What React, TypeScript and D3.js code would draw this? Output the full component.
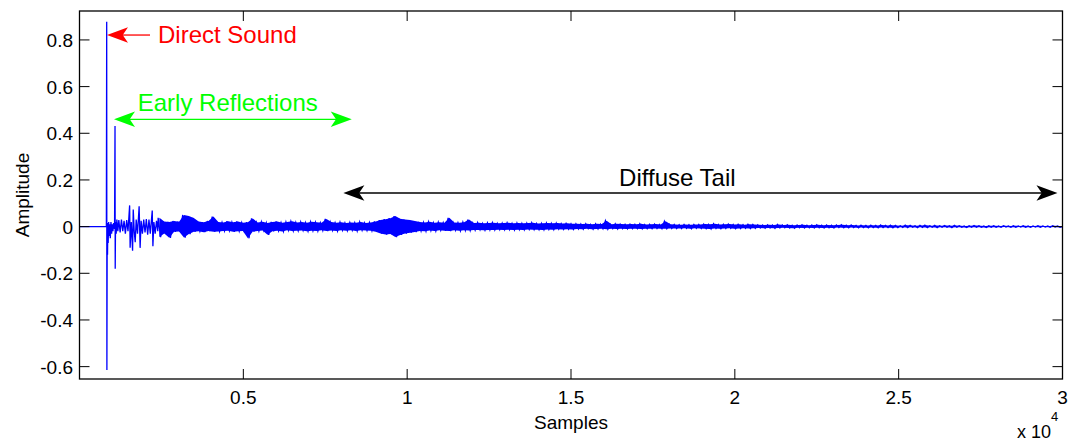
import React from "react";
import * as d3 from "d3";

// ---------- data ----------
const xTicks = [5000, 10000, 15000, 20000, 25000, 30000];
const xTickLabels = ["0.5", "1", "1.5", "2", "2.5", "3"];
const yTicks = [0.8, 0.6, 0.4, 0.2, 0, -0.2, -0.4, -0.6];
const yTickLabels = ["0.8", "0.6", "0.4", "0.2", "0", "-0.2", "-0.4", "-0.6"];

// early part of the impulse response: direct sound + early reflections
const earlySamples = [
  0, 820, 830, 836, 845, 855, 865, 875, 890, 905, 920, 940, 960, 980, 1000, 1020, 1040, 1070,
  1084, 1090, 1100, 1120, 1140, 1170, 1200, 1240, 1280, 1320, 1360, 1400, 1440, 1480, 1530,
  1545, 1580, 1620, 1640, 1670, 1700, 1730, 1770, 1820, 1850, 1880, 1920, 1960, 2000, 2040,
  2080, 2120, 2160, 2220, 2240, 2270, 2310, 2350, 2390,
];
const earlyValues = [
  0, 0, 0.878, -0.614, -0.02, -0.12, 0.015, -0.07, 0.02, -0.04, 0.01, -0.05, 0.02, -0.03, 0.01,
  -0.02, 0.015, -0.01, 0.431, -0.181, 0.02, -0.03, 0.03, -0.02, 0.028, -0.025, 0.03, -0.02,
  0.025, -0.03, 0.028, -0.02, 0.091, -0.09, 0.02, -0.103, 0.073, -0.02, -0.067, 0.03, -0.03,
  0.087, -0.091, 0.025, -0.03, 0.03, -0.025, 0.032, -0.035, 0.03, -0.03, 0.069, -0.084, 0.02,
  -0.03, 0.025, -0.02,
];

// diffuse tail: per-bin upper / lower excursions (bins of 150 samples from 2400)
const tailStart = 2400;
const tailStep = 150;
const tailMax = [
  0.038, 0.022, 0.020, 0.024, 0.021, 0.050, 0.045, 0.037, 0.022, 0.019,
  0.024, 0.043, 0.020, 0.018, 0.023, 0.019, 0.022, 0.017, 0.019, 0.035,
  0.018, 0.021, 0.016, 0.020, 0.022, 0.017, 0.020, 0.023, 0.018, 0.020,
  0.017, 0.021, 0.019, 0.017, 0.033, 0.020, 0.017, 0.019, 0.016, 0.018,
  0.017, 0.020, 0.016, 0.018, 0.022, 0.028, 0.032, 0.036, 0.045, 0.034,
  0.030, 0.028, 0.024, 0.020, 0.018, 0.021, 0.017, 0.019, 0.017, 0.038,
  0.018, 0.017, 0.019, 0.030, 0.015, 0.017, 0.014, 0.016, 0.017, 0.014,
  0.015, 0.017, 0.014, 0.016, 0.014, 0.015, 0.017, 0.013, 0.014, 0.016,
  0.014, 0.015, 0.013, 0.014, 0.012, 0.012, 0.011, 0.012, 0.010, 0.012,
  0.011, 0.025, 0.010, 0.012, 0.011, 0.010, 0.011, 0.010, 0.012, 0.009,
  0.010, 0.011, 0.009, 0.023, 0.010, 0.009, 0.008, 0.009, 0.008, 0.009,
  0.009, 0.011, 0.010, 0.012, 0.009, 0.010, 0.011, 0.009, 0.010, 0.008,
  0.010, 0.009, 0.008, 0.007, 0.008, 0.007, 0.009, 0.007, 0.008, 0.006,
  0.007, 0.008, 0.006, 0.007, 0.008, 0.006, 0.007, 0.006, 0.007, 0.008,
  0.006, 0.007, 0.005, 0.006, 0.005, 0.006, 0.005, 0.007, 0.005, 0.006,
  0.005, 0.004, 0.006, 0.005, 0.004, 0.005, 0.006, 0.004, 0.005, 0.004,
  0.005, 0.004, 0.005, 0.004, 0.003, 0.004, 0.005, 0.004, 0.003, 0.004,
  0.004, 0.003, 0.004, 0.003, 0.004, 0.003, 0.004, 0.003, 0.003, 0.004,
  0.003, 0.003, 0.004, 0.003,
];
const tailMin = [
  -0.045, -0.030, -0.048, -0.022, -0.021, -0.047, -0.032, -0.022, -0.020, -0.024,
  -0.019, -0.022, -0.021, -0.019, -0.018, -0.022, -0.020, -0.019, -0.050, -0.021,
  -0.019, -0.017, -0.035, -0.020, -0.018, -0.021, -0.016, -0.019, -0.018, -0.017,
  -0.020, -0.018, -0.019, -0.016, -0.019, -0.017, -0.019, -0.016, -0.018, -0.016,
  -0.019, -0.016, -0.017, -0.018, -0.022, -0.030, -0.034, -0.032, -0.045, -0.036,
  -0.030, -0.026, -0.023, -0.019, -0.020, -0.017, -0.019, -0.016, -0.018, -0.019,
  -0.016, -0.018, -0.016, -0.017, -0.015, -0.014, -0.016, -0.014, -0.015, -0.013,
  -0.014, -0.013, -0.015, -0.013, -0.014, -0.012, -0.013, -0.013, -0.014, -0.012,
  -0.013, -0.011, -0.012, -0.011, -0.012, -0.010, -0.011, -0.009, -0.011, -0.010,
  -0.009, -0.011, -0.009, -0.010, -0.009, -0.010, -0.009, -0.009, -0.010, -0.009,
  -0.009, -0.008, -0.009, -0.009, -0.008, -0.008, -0.008, -0.007, -0.009, -0.007,
  -0.008, -0.009, -0.010, -0.008, -0.009, -0.008, -0.007, -0.009, -0.008, -0.007,
  -0.008, -0.007, -0.006, -0.007, -0.006, -0.007, -0.006, -0.005, -0.006, -0.007,
  -0.005, -0.006, -0.005, -0.006, -0.005, -0.006, -0.005, -0.006, -0.004, -0.005,
  -0.005, -0.004, -0.005, -0.004, -0.005, -0.004, -0.005, -0.004, -0.004, -0.005,
  -0.004, -0.003, -0.004, -0.003, -0.004, -0.003, -0.004, -0.003, -0.004, -0.003,
  -0.003, -0.004, -0.003, -0.003, -0.004, -0.003, -0.003, -0.003, -0.004, -0.003,
  -0.003, -0.003, -0.002, -0.003, -0.003, -0.002, -0.003, -0.003, -0.002, -0.003,
  -0.002, -0.003, -0.002, -0.003,
];

// annotations (data coordinates)
const annotations = [
  { label: "Direct Sound", color: "#ff0000", x0: 2152, x1: 839, y: 0.821, tx: 2396, ty: 0.786, both: false },
  { label: "Early Reflections", color: "#00ff00", x0: 1053, x1: 8309, y: 0.46, tx: 1777, ty: 0.495, both: true },
  { label: "Diffuse Tail", color: "#000000", x0: 8053, x1: 29847, y: 0.144, tx: 16468, ty: 0.176, both: true },
];

const W = 1074;
const H = 441;
const FONT = "'Liberation Sans', Arial, Helvetica, sans-serif";

function headPath(tx: number, ty: number, dir: number) {
  const L = 21;
  const hw = 7.8;
  const n = 0.75 * L;
  return `M${tx},${ty} L${tx - dir * L},${ty - hw} L${tx - dir * n},${ty} L${tx - dir * L},${ty + hw} Z`;
}

export default function App() {
  const left = 79.5;
  const right = 1062.5;
  const top = 11;
  const bottom = 379;
  const x = d3.scaleLinear().domain([0, 30000]).range([left, right]);
  const y = d3.scaleLinear().domain([-0.653, 0.924]).range([bottom, top]);

  const pts: [number, number][] = earlySamples.map((s, i) => [s, earlyValues[i]]);
  tailMax.forEach((v, i) => {
    const s = tailStart + i * tailStep;
    pts.push([s, v]);
    pts.push([s + tailStep / 2, tailMin[i]]);
  });
  pts.push([30000, 0]);

  const line = d3
    .line<[number, number]>()
    .x((d) => x(d[0]))
    .y((d) => y(d[1]));

  const band = d3
    .area<number>()
    .x((_, i) => x(tailStart + i * tailStep + tailStep / 4))
    .y0((_, i) => y(tailMin[i]))
    .y1((_, i) => y(tailMax[i]));

  const tickLen = 10;

  return (
    <svg
      width={W}
      height={H}
      style={{ position: "absolute", left: 0, top: 0, background: "#fff" }}
      fontFamily={FONT}
    >
      <rect x={0} y={0} width={W} height={H} fill="#fff" />

      <path d={band(tailMax) || ""} fill="#0000ff" stroke="none" />
      <path d={line(pts) || ""} fill="none" stroke="#0000ff" strokeWidth={1.3} strokeLinejoin="miter" />

      {/* axes box */}
      <rect x={left} y={top} width={right - left} height={bottom - top} fill="none" stroke="#000" strokeWidth={1.3} />

      {/* x ticks */}
      {xTicks.map((t, i) => (
        <g key={"xt" + i}>
          <line x1={x(t)} x2={x(t)} y1={bottom} y2={bottom - tickLen} stroke="#000" strokeWidth={1} />
          <line x1={x(t)} x2={x(t)} y1={top} y2={top + tickLen} stroke="#000" strokeWidth={1} />
          <text x={x(t)} y={404} textAnchor="middle" fontSize={19} fill="#000">
            {xTickLabels[i]}
          </text>
        </g>
      ))}

      {/* y ticks */}
      {yTicks.map((t, i) => (
        <g key={"yt" + i}>
          <line x1={left} x2={left + tickLen} y1={y(t)} y2={y(t)} stroke="#000" strokeWidth={1} />
          <line x1={right} x2={right - tickLen} y1={y(t)} y2={y(t)} stroke="#000" strokeWidth={1} />
          <text x={73} y={y(t) + 7} textAnchor="end" fontSize={19} fill="#000">
            {yTickLabels[i]}
          </text>
        </g>
      ))}

      {/* axis labels */}
      <text x={(left + right) / 2} y={429} textAnchor="middle" fontSize={19} fill="#000">
        Samples
      </text>
      <text
        transform={`translate(29,${(top + bottom) / 2}) rotate(-90)`}
        textAnchor="middle"
        fontSize={19}
        fill="#000"
      >
        Amplitude
      </text>
      <text x={1017} y={438} fontSize={18} fill="#000">
        x 10
      </text>
      <text x={1051} y={421} fontSize={13} fill="#000">
        4
      </text>

      {/* annotations */}
      {annotations.map((a, i) => {
        const px0 = x(a.x0);
        const px1 = x(a.x1);
        const py = y(a.y);
        const dir = px1 > px0 ? 1 : -1;
        return (
          <g key={"an" + i}>
            <line
              x1={a.both ? px0 + dir * 14 : px0}
              x2={px1 - dir * 14}
              y1={py}
              y2={py}
              stroke={a.color}
              strokeWidth={1.3}
            />
            <path d={headPath(px1, py, dir)} fill={a.color} />
            {a.both && <path d={headPath(px0, py, -dir)} fill={a.color} />}
            <text x={x(a.tx)} y={y(a.ty)} fontSize={24} fill={a.color}>
              {a.label}
            </text>
          </g>
        );
      })}
    </svg>
  );
}
